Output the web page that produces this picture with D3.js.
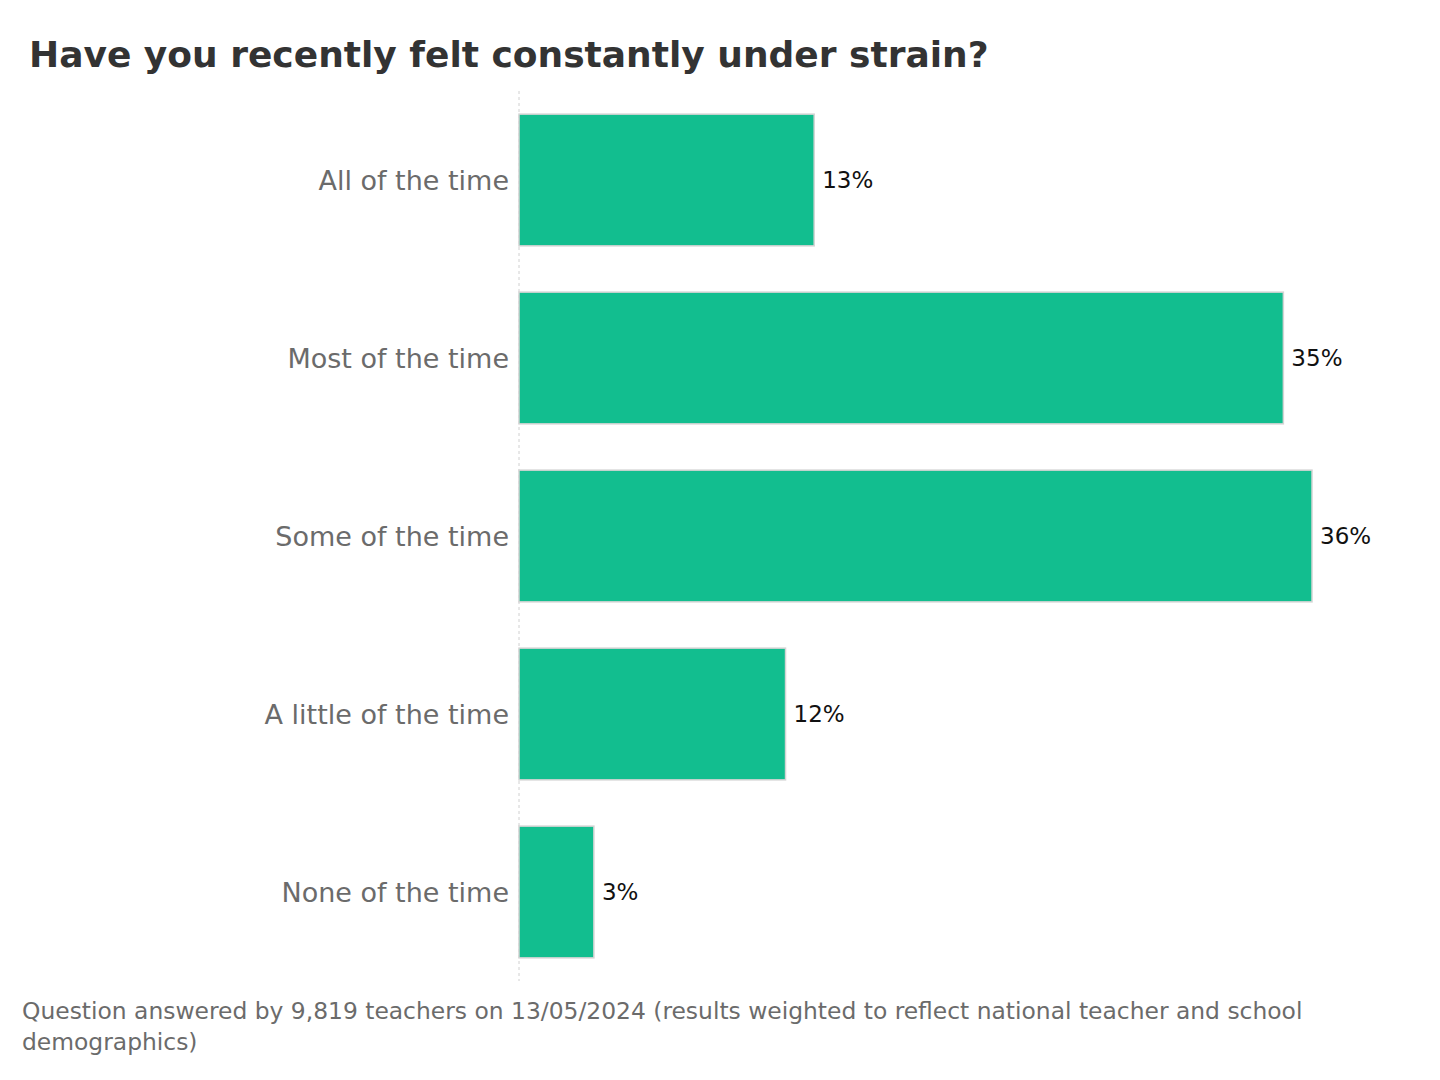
<!DOCTYPE html>
<html>
<head>
<meta charset="utf-8">
<script src="https://cdn.jsdelivr.net/npm/d3@7"></script>
<style>
  html, body { margin: 0; padding: 0; background: #fff; }
  svg { display: block; font-family: "DejaVu Sans", sans-serif; }
</style>
</head>
<body>
<svg id="chart" width="1440" height="1080"></svg>
<script>
const title = "Have you recently felt constantly under strain?";
const categories = ["All of the time", "Most of the time", "Some of the time", "A little of the time", "None of the time"];
const values = [13.4, 34.7, 36.0, 12.1, 3.4];
const valueLabels = ["13%", "35%", "36%", "12%", "3%"];
const footnoteLines = [
  "Question answered by 9,819 teachers on 13/05/2024 (results weighted to reflect national teacher and school",
  "demographics)"
];

const svg = d3.select("#chart");
const x0 = 519;

const x = d3.scaleLinear().domain([0, 36.0]).range([x0, 1312]);
const y = d3.scaleBand().domain(categories).range([91, 981]).paddingInner(0.26).paddingOuter(0.13);

svg.append("text")
  .attr("x", 29).attr("y", 67)
  .attr("font-size", 36).attr("font-weight", "bold")
  .attr("fill", "#333")
  .text(title);

// axis line
svg.append("line")
  .attr("x1", x0).attr("x2", x0)
  .attr("y1", 91).attr("y2", 981)
  .attr("stroke", "#d0d0d0").attr("stroke-width", 1)
  .attr("stroke-dasharray", "3,3");

const data = categories.map((c, i) => ({ c, v: values[i], l: valueLabels[i] }));

svg.selectAll("rect.bar").data(data).join("rect")
  .attr("class", "bar")
  .attr("x", x(0))
  .attr("y", d => y(d.c))
  .attr("width", d => x(d.v) - x(0))
  .attr("height", y.bandwidth())
  .attr("fill", "#12be8f")
  .attr("stroke", "#d4d4d4").attr("stroke-width", 1.5);

const yAxis = d3.axisLeft(y).tickSize(0).tickPadding(10);
const ga = svg.append("g").attr("transform", `translate(${x0},0)`).call(yAxis);
ga.select(".domain").remove();
ga.selectAll("text")
  .attr("font-size", 27).attr("fill", "#6b6b6b")
  .attr("dy", "0.37em")
  .attr("font-family", "DejaVu Sans, sans-serif");

svg.selectAll("text.val").data(data).join("text")
  .attr("class", "val")
  .attr("x", d => x(d.v) + 8)
  .attr("y", d => y(d.c) + y.bandwidth() / 2)
  .attr("dy", "0.33em")
  .attr("font-size", 23).attr("fill", "#111")
  .text(d => d.l);

svg.selectAll("text.foot").data(footnoteLines).join("text")
  .attr("class", "foot")
  .attr("x", 22)
  .attr("y", (d, i) => 1019 + i * 31)
  .attr("font-size", 23.4).attr("fill", "#6b6b6b")
  .text(d => d);
</script>
</body>
</html>
